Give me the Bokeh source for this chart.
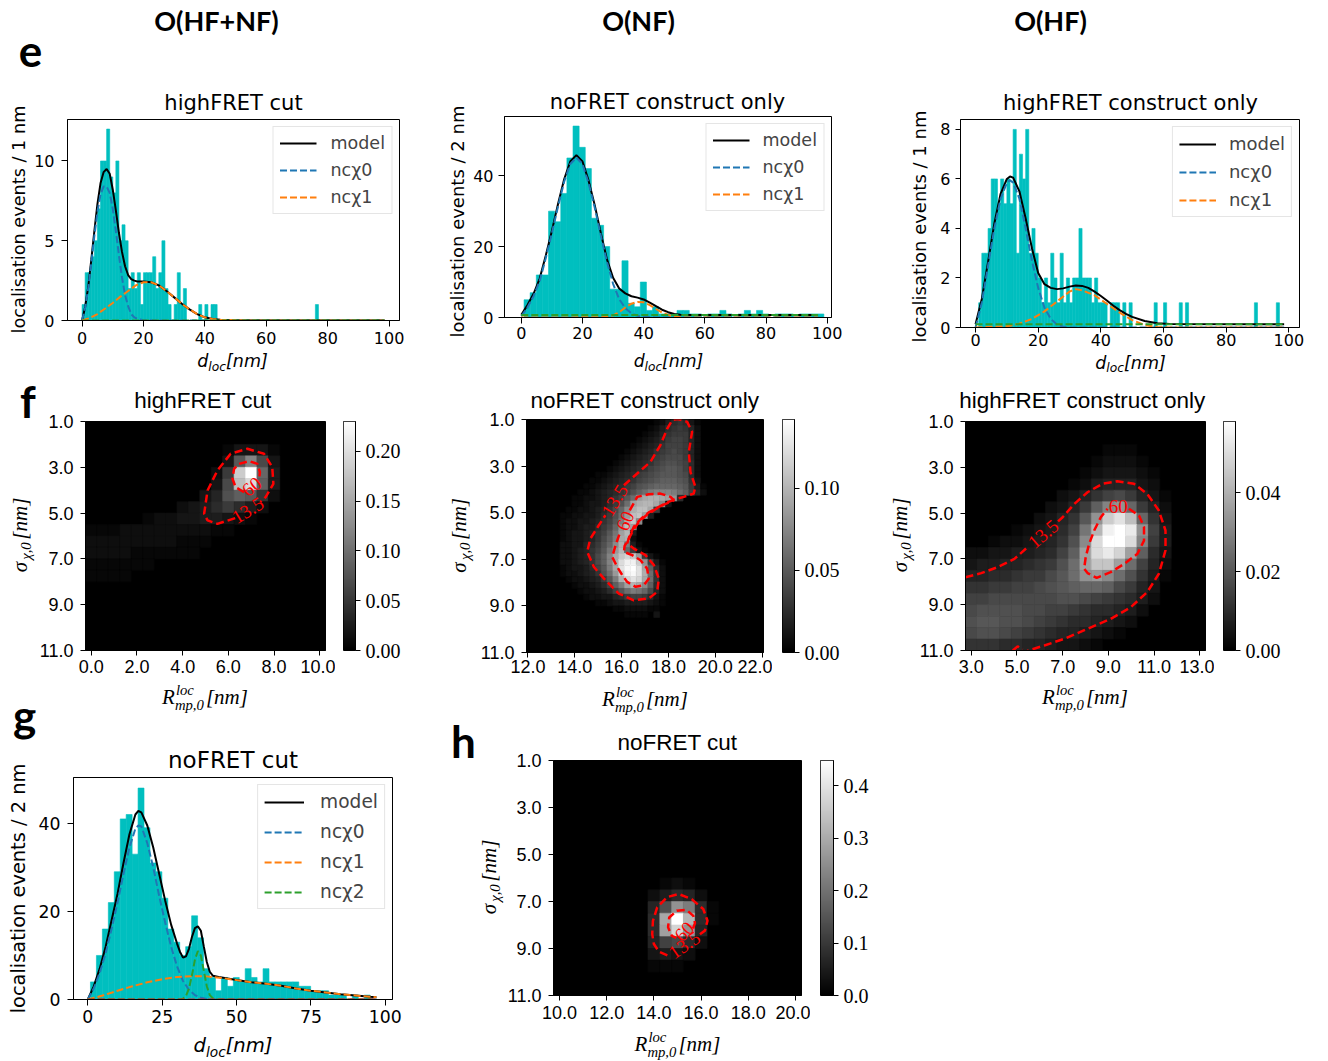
import numpy as np
from bokeh.plotting import figure
from bokeh.models import (Range1d, Label, Legend, LegendItem, FixedTicker,
                          LinearColorMapper, NumeralTickFormatter, ColumnDataSource)
from bokeh.layouts import row, column
from bokeh.embed import file_html
from bokeh.resources import INLINE
from bokeh.palettes import Greys256
from bokeh.transform import linear_cmap

# ====================== DATA ======================
# --- e / g: histogram counts per bin ---
e1_counts = [1,3,3,4,5,7,10,10,12,9, 8,10,5,6,5,2,3,2,3,1, 3,3,3,4,2,3,5,2,1,0,
             1,3,1,2,0,0,0,0,1,0, 1,0,1,1,0,0,0,0,0,0, 0,0,0,0,0,0,0,0,0,0,
             0,0,0,0,0,0,0,0,0,0, 0,0,0,0,0,0,1,0,0,0]
e2_counts = [5,7,12,12,30,27,35,45,54,48, 42,28,26,20,8,8,16,4,3,10,
             2,3,1,1,1,2,2,1,1,0, 1,1,2,1,0,1,2,1,2,1, 0,1,1,1,0,1,1,1,1]
e3_counts = [0,1,3,3,4,6,6,5,6,5, 6,5,8,3,7,6,8,3,4,3, 2,1,2,1,3,2,1,3,1,2,
             1,2,2,4,2,2,2,1,2,1, 1,1,0,1,1,1,0,1,0,1, 0,0,0,0,0,0,0,1,0,0,
             1,0,0,0,0,1,0,1,0,0, 0,0,0,0,0,0,0,0,0,0, 0,0,0,0,0,0,0,0,0,1,
             0,0,0,0,0,0,1]
g_counts = [4,10,16,22,29,41,42,33,48,39, 31,29,23,16,13,10,12,19,14,7,
            5,2,5,3,5,4,7,5,4,7, 4,4,4,4,4,3,3,2,2,2, 1,1,1,0,1,0,1,0,0]

# --- fitted curves ---
e1_m_x = [0,1,2,3,4,5,6,7,8,9,10,11,12,13,14,15,16,17,18,20,22.5,25,27.5,30,32.5,35,37.5,40,42.5,45,50,60,98.5]
e1_m_y = [0,0.85,2.1,3.8,5.6,7.3,8.6,9.3,9.5,9.2,8.2,6.9,5.5,4.3,3.4,2.85,2.6,2.5,2.45,2.45,2.4,2.2,1.85,1.45,1.05,0.7,0.4,0.2,0.1,0.05,0.02,0.01,0.01]
e1_c0_x = [0,1,2,3,4,5,6,7,8,9,10,11,12,13,14,15,16,17,18,20,25,98.5]
e1_c0_y = [0,0.8,2.0,3.6,5.3,6.8,7.9,8.4,8.4,8.0,7.0,5.6,4.1,2.7,1.6,0.9,0.4,0.2,0.1,0.02,0,0]
e1_c1_x = [0,2.5,5,7.5,10,12.5,15,17.5,20,22.5,25,27.5,30,32.5,35,37.5,40,42.5,45,50,60,98.5]
e1_c1_y = [0,0.15,0.4,0.75,1.1,1.5,1.85,2.2,2.4,2.4,2.2,1.85,1.45,1.05,0.7,0.4,0.2,0.1,0.05,0.01,0,0]
e1_bg = 0.0
e2_m_x = [0,2,4,6,8,10,12,14,16,18,20,22,24,26,28,30,32,34,36,38,40,42,44,46,48,50,52,56,97]
e2_m_y = [0.8,3.5,6.7,11,17.5,24.5,32,39,44,45.8,44,38.6,31.7,23.8,16.4,11.2,8.2,6.8,6.0,5.6,5.1,4.2,3.2,2.2,1.5,1.0,0.8,0.7,0.7]
e2_c0_x = [0,2,4,6,8,10,12,14,16,18,20,22,24,26,28,30,32,34,36,38,40,44,97]
e2_c0_y = [0.3,2.8,6.0,10.3,16.8,23.8,31.3,38.3,43.3,45.1,43.3,37.9,31.0,23.1,15.7,9.5,5.2,2.6,1.2,0.5,0.2,0,0]
e2_c1_x = [0,26,28,30,32,34,36,38,40,42,44,46,48,50,52,54,97]
e2_c1_y = [0,0.05,0.2,0.6,1.5,2.8,3.9,4.4,4.3,3.5,2.4,1.4,0.7,0.25,0.05,0,0]
e2_bg = 0.7
e3_m_x = [0,2,4,6,8,10,11,12,14,16,18,20,22,24,26,28,30,32,34,36,38,40,42,44,46,48,50,54,58,62,98.5]
e3_m_y = [0.13,1.15,2.65,4.2,5.4,6.0,6.1,6.05,5.5,4.4,3.2,2.2,1.75,1.6,1.55,1.58,1.65,1.7,1.68,1.6,1.45,1.27,1.08,0.88,0.7,0.55,0.43,0.26,0.17,0.14,0.13]
e3_c0_x = [0,2,4,6,8,10,11,12,14,16,18,20,22,24,26,28,30,98.5]
e3_c0_y = [0,1.0,2.5,4.0,5.2,5.85,5.95,5.85,5.2,4.0,2.7,1.6,0.8,0.35,0.12,0.03,0,0]
e3_c1_x = [0,10,14,18,22,26,30,32,34,38,42,46,50,54,58,62,98.5]
e3_c1_y = [0,0.05,0.15,0.35,0.65,1.05,1.45,1.55,1.5,1.3,0.95,0.6,0.3,0.1,0.02,0,0]
e3_bg = 0.13
g_m_x = [0,2,4,6,8,10,12,14,16,17,18,20,22,24,26,28,30,31,32,33,34,35,36,37,38,39,40,41,42,44,46,50,55,60,65,70,75,80,85,90,95,97]
g_m_y = [0,3.0,7,12,18,24,31,37.5,42,42.8,42.5,39.5,34.5,28.5,22.5,17,12.7,10.8,9.5,9.8,11.5,14.2,16.2,16.6,15.6,12,8.5,6.3,5.4,5.1,4.9,4.45,3.9,3.6,3.1,2.5,2.0,1.6,1.2,0.9,0.6,0.5]
g_c0_x = [0,2,4,6,8,10,12,14,16,17,18,20,22,24,26,28,30,32,34,36,38,40,42,44,97]
g_c0_y = [0,2.5,6,10.5,16,22,28.5,34.5,38.8,39.5,39.3,35.5,30,23.5,17.5,12,7.5,4.2,2.2,1.0,0.4,0.1,0.02,0,0]
g_c1_x = [0,5,10,15,20,25,30,35,40,45,50,55,60,65,70,75,80,85,90,95,97]
g_c1_y = [0,0.9,2.0,3.0,3.9,4.6,5.1,5.3,5.25,4.9,4.4,3.9,3.6,3.1,2.5,2.0,1.6,1.2,0.9,0.6,0.5]
g_c2_x = [0,31,32,33,34,35,36,37,38,39,40,41,42,43,97]
g_c2_y = [0,0,0.2,0.8,2.5,5.5,9,11,10,6.5,3,1,0.3,0,0]
g_bg = 0.0

# --- f / h heat maps: one char per cell = level 0..35 of vmax; rows start at y=1 ---
f1_vmax, f1_x0, f1_cell = 0.23, 0.0, 0.5
f1_rows = ["000000000000000000000", "000000000000000000000",
           "000000000000133310000", "0000000000003cia30000",
           "0000000000028sze40000", "000000000003aqud40000",
           "000000000035bdc720000", "000000002346864200000",
           "000001223344321000000", "111222222221100000000",
           "222222221110000000000", "222211111100000000000",
           "111111000000000000000", "111100000000000000000"]
f2_vmax, f2_x0, f2_cell = 0.142, 13.5, 0.25
f2_rows = ["0000000000000000124676310", "0000000000000001246787520",
           "0000000000000012357888520", "0000000000000123468998520",
           "0000000000001234579998520", "0000000000012345789a98520",
           "000000000012345689aaa8520", "00000000012345679abba9620",
           "0000000012345679abccb9620", "000000112345689abcccba620",
           "00000112345679abcdddcb730", "0000112345689bcdeeeedc841",
           "000112345679bdfhiiihfd952", "00112234579cflnoonmk60000",
           "0011233468bfmoppnj3000000", "011223457aejoqqn800000000",
           "112233468bflqrm4000000000", "122334579chorj00000000000",
           "12234468aekqm000000000000", "12334579cgmp4000000000000",
           "1233457adhno2000000000000", "2233568bejoh4100000000000",
           "2234579cglpe8310000000000", "223457adinrtrl83100000000",
           "223457adiouxxsk9410000000", "1233469chnvyzvnd620000000",
           "1223457bflsxyvof720000000", "01223458chotvtnf720000000",
           "001223469dhmpnjd620000000", "0001223469cfhgea520000000",
           "0000122335689986310000000", "0000001123344443210000000",
           "0000000001122221100000000", "0000000000011110300000000"]
f3_vmax, f3_x0, f3_cell = 0.058, 3.0, 0.5
f3_rows = ["000000000000000000000", "000000000000000000000",
           "000000000000111000000", "000000000001222100000",
           "000000000012333210000", "000000000124555320000",
           "0000000023579a8531000", "00000002358dike852000",
           "0000002357cksvqe73000", "0000123469gpxzwk94000",
           "001223457bjuzzui84000", "223344569dmuwtmd63000",
           "34455678bfmrrmf952000", "5566788acfkljfb741000",
           "778899abcdeeda8530000", "99aaaaaabba9876420000",
           "abbbbaa99876654200000", "bccbba987665432000000",
           "abba98765543210000000", "777665543321000000000"]
h_vmax, h_x0, h_cell = 0.448, 10.0, 0.5
h_rows = ["000000000000000000000"] * 10 + [
           "000000000121000000000", "000000002465200000000",
           "000000005bkh610000000", "000000006nzp610000000",
           "000000006mtk500000000", "0000000059a6200000000",
           "000000003432000000000", "000000001110000000000"]

# --- red dashed contours (levels 13.5 and 60), data coordinates ---
f1_c13 = [([6.30,5.52,5.09,4.94,5.09,5.52,6.10,6.83,7.56,7.92,7.97,7.63,7.40],
           [5.22,5.47,5.32,5.03,4.01,3.14,2.41,2.19,2.41,2.99,3.72,4.30,4.52])]
f1_c60 = [([6.69,6.32,6.18,6.25,6.47,6.90,7.27,7.38,7.34],
           [4.09,3.87,3.50,3.07,2.85,2.73,2.85,3.21,3.58])]
f1_lab = [("13.5", 6.85, 4.87, 0.55), ("60", 7.02, 3.84, 0.67)]
f2_c13 = [([16.10,16.67,17.23,17.66,17.95,18.16,18.40,18.80,19.01,18.87,18.94,19.15,19.08,18.66,18.30,
            17.95,17.59,17.16,16.81,16.52,16.35,16.24,16.52,17.02,17.38,17.59,17.52,17.16,16.52,15.88,
            15.31,14.82,14.53,14.67,15.03,15.31],
           [3.82,3.32,2.82,2.10,1.39,1.03,0.98,1.10,1.53,2.39,3.25,3.89,4.18,4.32,4.42,
            4.56,4.75,4.99,5.28,5.61,5.97,6.32,6.54,6.82,7.25,7.83,8.40,8.68,8.76,8.47,
            7.90,7.33,6.68,6.11,5.54,5.11])]
f2_c60 = [([16.35,16.67,17.16,17.66,18.09,18.23,18.16,17.80,17.45,17.06,16.74,16.50,16.31,16.13,16.10,
            16.45,16.81,17.09,17.16,16.95,16.60,16.24,16.03,15.81,15.60,15.74,15.95],
           [4.90,4.32,4.21,4.18,4.32,4.46,4.51,4.65,4.85,5.11,5.39,5.75,6.11,6.42,6.68,
            6.82,7.04,7.40,7.83,8.11,8.18,7.97,7.68,7.32,6.90,6.41,5.80])]
f2_lab = [("13.5", 15.70, 4.47, 1.02), ("60", 16.15, 5.35, 1.15)]
f3_c13 = [([2.75,3.44,4.16,4.89,5.50], [7.80,7.62,7.36,7.00,6.46]),
          ([6.80,7.00,7.51,8.09,8.74,9.39,10.12,10.70,11.21,11.50,11.50,11.21,10.70,9.98,9.10,8.09,7.07,6.20,5.60,5.45],
           [5.36,5.18,4.60,4.09,3.72,3.61,3.72,4.16,4.89,5.76,6.63,7.65,8.45,9.11,9.62,10.05,10.49,10.78,10.97,11.02]),
          ([4.82,5.03,5.25], [11.0,10.82,10.95])]
f3_c60 = [([9.90,10.34,10.56,10.56,10.27,9.69,9.10,8.49,8.09,7.94,8.01,8.16,8.38,8.67,8.96],
           [4.81,5.11,5.61,6.20,6.78,7.22,7.58,7.83,7.62,7.43,6.92,6.34,5.76,5.18,4.81])]
f3_lab = [("13.5", 6.15, 5.91, 0.70), ("60", 9.43, 4.72, 0.0)]
h_c13 = [([15.95,16.16,16.27,16.09,15.60,15.04,14.55,14.14,13.96,13.93,14.00,14.21,14.62],
          [8.39,8.24,7.82,7.32,6.90,6.68,6.82,7.25,7.82,8.39,8.81,9.13,9.31])]
h_c60 = [([15.66,15.74,15.67,15.39,14.97,14.65,14.60,14.76,14.95],
          [8.15,7.92,7.61,7.36,7.39,7.68,8.10,8.46,8.55])]
h_lab = [("13.5", 15.29, 8.85, 0.60), ("60", 15.28, 8.27, 0.80)]

# ====================== STYLE ======================
CYAN = "#00bfbf"; C0 = "#1f77b4"; C1 = "#ff7f0e"; C2 = "#2ca02c"; C3 = "#d62728"
SANS = "DejaVu Sans"; LSANS = "Liberation Sans"; SERIF = "Liberation Serif"; HEAD = "Lato"
ALPH = "0123456789abcdefghijklmnopqrstuvwxyz"
DASH = "7 3"
MID = 0.32   # baseline -> em-middle offset (fraction of font size)


def T(p, x, y, text, size, font, style="normal", color="black", align="left", angle=0.0):
    """text whose em-middle is at data point (x, y)"""
    p.add_layout(Label(x=x, y=y, x_units="data", y_units="data", text=text, text_font=font,
                       text_font_size=f"{size}px", text_font_style=style, text_color=color,
                       text_align=align, text_baseline="middle", angle=angle))


def strip(W, H):
    """blank text panel; its data units are its own pixels, y pointing down"""
    p = figure(width=W, height=H, x_range=Range1d(0, W), y_range=Range1d(H, 0),
               output_backend="svg", toolbar_location=None, tools="",
               x_axis_location=None, y_axis_location=None, min_border=0, frame_align=False)
    p.grid.visible = False
    p.outline_line_color = None
    return p


def base(W, H, bl, bt, fw, fh, xr, yr, **kw):
    p = figure(width=W, height=H, x_range=Range1d(*xr), y_range=Range1d(*yr),
               output_backend="svg", toolbar_location=None, tools="", frame_align=False,
               min_border_left=bl, min_border_top=bt,
               min_border_right=W - bl - fw, min_border_bottom=H - bt - fh, **kw)
    p.grid.visible = False
    p.outline_line_color = "black"
    p.outline_line_alpha = 1.0
    p.outline_line_width = 1
    return p


def style_axis(ax, font, size, tick_len, standoff):
    ax.major_tick_out = tick_len
    ax.major_tick_in = 0
    ax.minor_tick_out = 0
    ax.minor_tick_in = 0
    ax.major_label_text_font = font
    ax.major_label_text_font_size = f"{size}px"
    ax.major_label_standoff = standoff
    ax.axis_line_color = "black"
    ax.major_tick_line_color = "black"
    ax.major_label_text_color = "black"


def title(p, cx, yb, text, fs, font):
    T(p, cx, yb - MID * fs, text, fs, font, align="center")


def plot_title(p, text, standoff):
    """title drawn in the figure's own top panel (centred over the frame)"""
    p.title.text = text
    p.title.text_font = LSANS
    p.title.text_font_size = "22.5px"
    p.title.text_font_style = "normal"
    p.title.text_color = "black"
    p.title.align = "center"
    p.title.standoff = standoff


def dloc(p, cx, yb, fs, dsub=0.22):
    s = 0.7 * fs
    wd, wl, wn = 0.635 * fs, 1.44 * s, 2.388 * fs
    x0 = cx - (wd + wl + wn) / 2
    T(p, x0, yb - MID * fs, "d", fs, SANS, "italic")
    T(p, x0 + wd, yb + dsub * fs - MID * s, "loc", s, SANS, "italic")
    T(p, x0 + wd + wl, yb - MID * fs, "[nm]", fs, SANS, "italic")


def r_label(p, cx, yb, fs=21):
    s = 0.7 * fs
    wR = 0.611 * fs
    wmid = 1.972 * s
    wn = 2.0 * fs
    x0 = cx - (wR + wmid + wn + 2) / 2
    T(p, x0, yb - MID * fs, "R", fs, SERIF, "italic")
    T(p, x0 + wR + 1, yb - 0.42 * fs - MID * s, "loc", s, SERIF, "italic")
    T(p, x0 + wR, yb + 0.28 * fs - MID * s, "mp,0", s, SERIF, "italic")
    T(p, x0 + wR + wmid + 2, yb - MID * fs, "[nm]", fs, SERIF, "italic")


def sigma_label(p, xb, cy, fs=21):
    s = 0.7 * fs
    ws, wsub, wn = 0.55 * fs, 1.3 * s, 2.0 * fs
    y0 = cy + (ws + wsub + wn) / 2
    rot = np.pi / 2
    T(p, xb - MID * fs, y0, "σ", fs, SERIF, "italic", angle=rot)
    T(p, xb + 0.22 * fs - MID * s, y0 - ws - 1, "χ,0", s, SERIF, "italic", angle=rot)
    T(p, xb - MID * fs, y0 - ws - wsub - 2, "[nm]", fs, SERIF, "italic", angle=rot)


def ylab_strip(W, H, cx, cy, text, fs):
    p = strip(W, H)
    T(p, cx, cy, text, fs, SANS, align="center", angle=np.pi / 2)
    return p


def hist_panel(W, H, bl, bt, fw, fh, xr, yr, xticks, yticks, tick_fs, x_so, y_so,
               start, bw, counts, curves, leg_fs, leg_gw, leg_so, leg_sp, tick_len=6):
    p = base(W, H, bl, bt, fw, fh, xr, yr)
    counts = np.array(counts, dtype=float)
    edges = start + bw * np.arange(len(counts) + 1)
    m = counts > 0
    p.quad(left=edges[:-1][m], right=edges[1:][m], bottom=0, top=counts[m],
           fill_color=CYAN, line_color=CYAN, line_width=0.6)
    items = []
    for xs, ys, color, dash, label in curves:
        r = p.line(xs, ys, line_color=color, line_width=2, line_dash=dash)
        if label:
            items.append(LegendItem(label=label, renderers=[r]))
    leg = Legend(items=items, location="top_right", label_text_font=SANS,
                 label_text_font_size=f"{leg_fs}px", glyph_width=leg_gw, glyph_height=20,
                 label_height=20, label_standoff=leg_so, spacing=leg_sp, padding=6, margin=7,
                 border_line_color="#cccccc", border_line_width=1, background_fill_alpha=0.8)
    p.add_layout(leg)
    p.xaxis.ticker = FixedTicker(ticks=xticks)
    p.yaxis.ticker = FixedTicker(ticks=yticks)
    style_axis(p.xaxis[0], SANS, tick_fs, tick_len, x_so)
    style_axis(p.yaxis[0], SANS, tick_fs, tick_len, y_so)
    return p


def heat_panel(W, H, bl, bt, fw, fh, xr, x0, cs, rows, vmax, xticks, contours, clabels, x_so):
    p = base(W, H, bl, bt, fw, fh, xr, (11, 1))
    p.background_fill_color = "black"
    xs, ys, vs = [], [], []
    for r, line in enumerate(rows):
        for c, ch in enumerate(line):
            lv = ALPH.index(ch)
            if lv:
                xs.append(x0 + cs * c)
                ys.append(1 + cs * (r + 0.5))
                vs.append(lv / 35 * vmax)
    cmap = linear_cmap("v", Greys256, 0, vmax)
    p.rect(x="x", y="y", width=cs, height=cs, source=ColumnDataSource(dict(x=xs, y=ys, v=vs)),
           fill_color=cmap, line_color=cmap, line_width=0.6)
    for seg_x, seg_y in contours:
        p.line(seg_x, seg_y, line_color="#ff0000", line_width=2.5, line_dash="8 4")
    for text, cx, cy, ang in clabels:
        T(p, cx, cy, text, 19, SERIF, color="#ff0000", align="center", angle=ang)
    p.xaxis.ticker = FixedTicker(ticks=xticks)
    p.yaxis.ticker = FixedTicker(ticks=[1, 3, 5, 7, 9, 11])
    p.xaxis.formatter = NumeralTickFormatter(format="0.0")
    p.yaxis.formatter = NumeralTickFormatter(format="0.0")
    style_axis(p.xaxis[0], LSANS, 18, 5, x_so)
    style_axis(p.yaxis[0], LSANS, 18, 5, 7)
    return p


def cbar_panel(W, H, bl, bt, fw, fh, vmax, ticks, fmt):
    p = figure(width=W, height=H, x_range=Range1d(0, 1), y_range=Range1d(0, vmax),
               output_backend="svg", toolbar_location=None, tools="", frame_align=False,
               x_axis_location=None, y_axis_location="right",
               min_border_left=bl, min_border_top=bt,
               min_border_right=W - bl - fw, min_border_bottom=H - bt - fh)
    p.grid.visible = False
    ramp = np.linspace(0, vmax, 256).reshape(-1, 1)
    p.image(image=[ramp], x=0, y=0, dw=1, dh=vmax,
            color_mapper=LinearColorMapper(palette=Greys256, low=0, high=vmax))
    p.yaxis.ticker = FixedTicker(ticks=ticks)
    p.yaxis.formatter = NumeralTickFormatter(format=fmt)
    style_axis(p.yaxis[0], SERIF, 20, 5, 5)
    p.outline_line_color = "black"
    p.outline_line_alpha = 1.0
    return p


# ====================== header (y 0..80) ======================
s0 = strip(1328, 80)
for t, cx in (("O(HF+NF)", 216), ("O(NF)", 638), ("O(HF)", 1050)):
    T(s0, cx, 20, t, 27, HEAD, "bold", align="center")
T(s0, 30, 50, "e", 44, HEAD, "bold", align="center")

# ====================== row e (y 80..374) ======================
yl_e1 = ylab_strip(30, 294, 18.5, 139, "localisation events / 1 nm", 17.7)
t_e1 = strip(410, 35); title(t_e1, 203, 29.3, "highFRET cut", 21, SANS)
e1 = hist_panel(410, 235, 37, 4, 332, 201, (-4.75, 103.4), (0, 12.6),
                [0, 20, 40, 60, 80, 100], [0, 5, 10], 16, 5, 7,
                0, 1, e1_counts,
                [(e1_m_x, e1_m_y, "black", "solid", "model"),
                 (e1_c0_x, e1_c0_y, C0, DASH, "ncχ0"),
                 (e1_c1_x, e1_c1_y, C1, DASH, "ncχ1"),
                 ([0, 98.5], [e1_bg, e1_bg], C2, DASH, None)],
                17.5, 37, 14, 7)
d_e1 = strip(410, 24); dloc(d_e1, 202, 16.5, 17.5)

yl_e2 = ylab_strip(30, 294, 16.5, 141, "localisation events / 2 nm", 18)
t_e2 = strip(420, 35); title(t_e2, 197, 28.3, "noFRET construct only", 21, SANS)
e2 = hist_panel(420, 230, 32, 1, 329, 201, (-5.5, 101.4), (0, 56.7),
                [0, 20, 40, 60, 80, 100], [0, 20, 40], 16, 3, 5,
                0.9, 2, e2_counts,
                [(e2_m_x, e2_m_y, "black", "solid", "model"),
                 (e2_c0_x, e2_c0_y, C0, DASH, "ncχ0"),
                 (e2_c1_x, e2_c1_y, C1, DASH, "ncχ1"),
                 ([0, 97], [e2_bg, e2_bg], C2, DASH, None)],
                17.5, 37, 13, 7)
d_e2 = strip(420, 29); dloc(d_e2, 198, 21.5, 17.3)

yl_e3 = ylab_strip(45, 294, 29, 146, "localisation events / 1 nm", 18)
t_e3 = strip(393, 35); title(t_e3, 195, 29.3, "highFRET construct only", 21, SANS)
e3 = hist_panel(393, 237, 25, 4, 339, 208, (-4.8, 103.4), (0, 8.4),
                [0, 20, 40, 60, 80, 100], [0, 2, 4, 6, 8], 16, 1, 5,
                0, 1, e3_counts,
                [(e3_m_x, e3_m_y, "black", "solid", "model"),
                 (e3_c0_x, e3_c0_y, C0, DASH, "ncχ0"),
                 (e3_c1_x, e3_c1_y, C1, DASH, "ncχ1"),
                 ([0, 98.5], [e3_bg, e3_bg], C2, DASH, None)],
                18, 37, 13, 7, tick_len=5)
d_e3 = strip(393, 22); dloc(d_e3, 195, 16.4, 17.5, dsub=0.15)

row_e = row(yl_e1, column(t_e1, e1, d_e1), yl_e2, column(t_e2, e2, d_e2),
            yl_e3, column(t_e3, e3, d_e3))

# ====================== row f (y 374..680) ======================
yl_f1 = strip(36, 306)
T(yl_f1, 27.5, 26, "f", 44, HEAD, "bold", align="center")
sigma_label(yl_f1, 26, 161.5)
t_f1 = strip(404, 39); title(t_f1, 166.5, 33.5, "highFRET cut", 22.5, LSANS)
f1 = heat_panel(299, 267, 48, 8, 241, 229, (-0.25, 10.25), f1_x0, f1_cell, f1_rows, f1_vmax,
                [0, 2, 4, 6, 8, 10], f1_c13 + f1_c60, f1_lab, 4)
cb1 = cbar_panel(105, 267, 8, 8, 12, 229, f1_vmax, [0, 0.05, 0.10, 0.15, 0.20], "0.00")

yl_f2 = strip(34, 306); sigma_label(yl_f2, 25, 161.8)
f2 = heat_panel(298, 306, 52, 45, 237, 233, (11.94, 22.06), f2_x0, f2_cell, f2_rows, f2_vmax,
                [12, 14, 16, 18, 20, 22], f2_c13 + f2_c60, f2_lab, 2)
plot_title(f2, "noFRET construct only", 13)
cb2 = cbar_panel(108, 306, 10, 45, 12, 233, f2_vmax, [0, 0.05, 0.10], "0.00")

yl_f3 = strip(36, 306); sigma_label(yl_f3, 26, 161.5)
t_f3 = strip(412, 39); title(t_f3, 166, 33.5, "highFRET construct only", 22.5, LSANS)
f3 = heat_panel(298, 267, 48, 8, 241, 229, (2.75, 13.25), f3_x0, f3_cell, f3_rows, f3_vmax,
                [3, 5, 7, 9, 11, 13], f3_c13 + f3_c60, f3_lab, 4)
cb3 = cbar_panel(114, 267, 9, 8, 12, 229, f3_vmax, [0, 0.02, 0.04], "0.00")

row_f = row(yl_f1, column(t_f1, row(f1, cb1)),
            yl_f2, row(f2, cb2),
            yl_f3, column(t_f3, row(f3, cb3)))

# ====================== rows g / h (y 680..1061) ======================
s2l = strip(440, 60)
r_label(s2l, 204.5, 23)
T(s2l, 24, 34, "g", 44, HEAD, "bold", align="center")
yl_g = ylab_strip(30, 321, 18.3, 148, "localisation events / 2 nm", 19.4)
t_g = strip(410, 35); title(t_g, 202.5, 26.7, "noFRET cut", 23, SANS)
g = hist_panel(410, 255, 43, 2, 319, 222, (-4.8, 102.4), (0, 50.4),
               [0, 25, 50, 75, 100], [0, 20, 40], 17.3, 4, 7,
               0.9, 2, g_counts,
               [(g_m_x, g_m_y, "black", "solid", "model"),
                (g_c0_x, g_c0_y, C0, DASH, "ncχ0"),
                (g_c1_x, g_c1_y, C1, DASH, "ncχ1"),
                (g_c2_x, g_c2_y, C2, DASH, "ncχ2"),
                ([0, 97], [g_bg, g_bg], C3, DASH, None)],
               18.6, 40, 16, 9)
s3l = strip(410, 31); dloc(s3l, 202.5, 21.6, 19.6)
left_gh = column(s2l, row(yl_g, column(t_g, g, s3l)))

yl_h = strip(64, 381)
T(yl_h, 23, 60, "h", 44, HEAD, "bold", align="center")
sigma_label(yl_h, 55, 197.5)
s2r = strip(824, 40)
r_label(s2r, 140.5, 25)
r_label(s2r, 580.5, 23)
h = heat_panel(306, 310, 49, 40, 248, 235, (9.75, 20.25), h_x0, h_cell, h_rows, h_vmax,
               [10, 12, 14, 16, 18, 20], h_c13 + h_c60, h_lab, 5)
plot_title(h, "noFRET cut", 12)
hcb = cbar_panel(518, 310, 10, 40, 13, 235, h_vmax, [0, 0.1, 0.2, 0.3, 0.4], "0.0")
s3r = strip(824, 31); r_label(s3r, 173, 20)
right_gh = row(yl_h, column(s2r, row(h, hcb), s3r))

layout = column(s0, row_e, row_f, row(left_gh, right_gh))
open("out.html", "w").write(file_html(layout, INLINE, "figure"))
